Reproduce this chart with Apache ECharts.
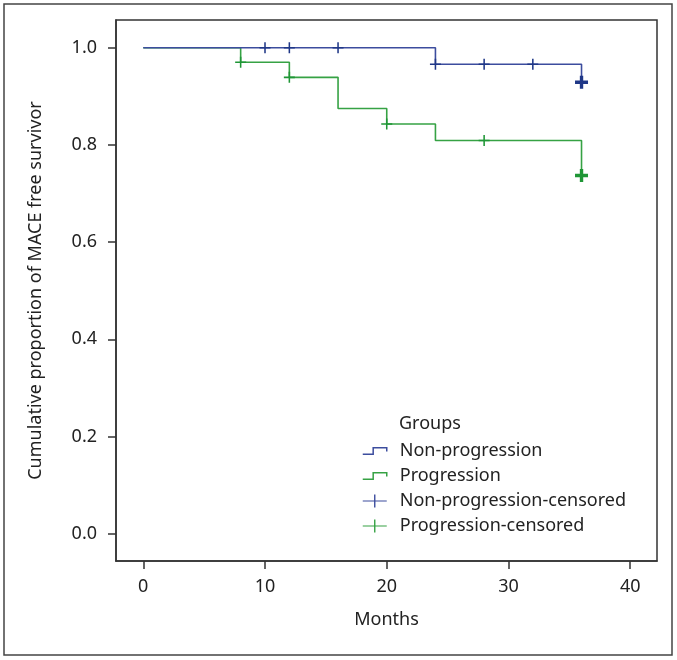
<!DOCTYPE html>
<html>
<head>
<meta charset="utf-8">
<script src="https://cdn.jsdelivr.net/npm/echarts@6/dist/echarts.min.js"></script>
<style>html,body{margin:0;padding:0;background:#fff;}#c{width:677px;height:660px;}</style>
</head>
<body>
<div id="c"></div>
<script>
// ---- data ----
const xTicks = [0, 10, 20, 30, 40];
const yTicks = [0, 0.2, 0.4, 0.6, 0.8, 1.0];

const nonProgTime = [0, 24, 36];
const nonProgSurv = [1.0, 0.966, 0.929];
const progTime = [0, 8, 12, 16, 20, 24, 36];
const progSurv = [1.0, 0.970, 0.939, 0.875, 0.843, 0.809, 0.737];

const nonProgCensTime = [10, 12, 16, 24, 28, 32, 36];
const nonProgCensSurv = [1.0, 1.0, 1.0, 0.966, 0.966, 0.966, 0.929];
const progCensTime = [8, 12, 20, 28, 36];
const progCensSurv = [0.970, 0.939, 0.843, 0.809, 0.737];

const seriesNames = ['Non-progression', 'Progression', 'Non-progression-censored', 'Progression-censored'];

// ---- styling ----
const BLUE = '#3c4d9e';
const GREEN = '#36a244';
const BLUE_D = '#1f3787';
const GREEN_D = '#1f9636';
const FONT = 'Noto Sans';
const TXT = '#222';

const plusThin = 'path://M4.3,0H5.7V4.3H10V5.7H5.7V10H4.3V5.7H0V4.3H4.3Z';
const plusBold = 'path://M3.7,0H6.3V3.7H10V6.3H6.3V10H3.7V6.3H0V3.7H3.7Z';
const legendPlus = 'path://M11.3,0H12.7V13H11.3Z M0,5.9H24V7.1H0Z';
const legendStep = 'path://M0,6L10,6L10,0L23,0L23,3.5';

function pairs(t, s) { return t.map((v, i) => [v, s[i]]); }
function censData(t, s) {
  return t.map((v, i) => {
    const last = i === t.length - 1;
    return last ? { value: [v, s[i]], symbol: plusBold, symbolSize: 13 } : [v, s[i]];
  });
}

const chart = echarts.init(document.getElementById('c'), null, { renderer: 'canvas' });
chart.setOption({
  animation: false,
  backgroundColor: '#fff',
  textStyle: { fontFamily: FONT },
  graphic: [{
    type: 'rect', shape: { x: 4, y: 4, width: 668, height: 651 },
    style: { fill: 'none', stroke: '#444', lineWidth: 1.5 }, silent: true, z: -1
  }],
  title: {
    text: 'Groups', left: 399, top: 415, padding: 0,
    textStyle: { fontFamily: FONT, fontSize: 18, fontWeight: 'normal', color: TXT }
  },
  grid: {
    left: 116, top: 20, right: 20, bottom: 99,
    show: true, borderColor: '#333', borderWidth: 1.5, backgroundColor: 'transparent'
  },
  legend: {
    orient: 'vertical', left: 362, top: 442, padding: 0,
    itemWidth: 24, itemHeight: 13, itemGap: 7,
    textStyle: { fontFamily: FONT, fontSize: 18, color: TXT, padding: [0, 0, 0, 8] },
    data: [
      { name: seriesNames[0], icon: legendStep, itemStyle: { color: 'rgba(0,0,0,0)', borderColor: BLUE, borderWidth: 1.5 } },
      { name: seriesNames[1], icon: legendStep, itemStyle: { color: 'rgba(0,0,0,0)', borderColor: GREEN, borderWidth: 1.5 } },
      { name: seriesNames[2], icon: legendPlus, itemStyle: { color: BLUE, borderWidth: 0 } },
      { name: seriesNames[3], icon: legendPlus, itemStyle: { color: GREEN, borderWidth: 0 } }
    ]
  },
  xAxis: {
    type: 'value', min: -2.24, max: 42.2,
    name: 'Months', nameLocation: 'middle', nameGap: 50,
    nameTextStyle: { fontFamily: FONT, fontSize: 18, color: TXT },
    axisLine: { show: true, onZero: false, lineStyle: { color: '#333', width: 1.5 } },
    axisTick: { show: true, length: 8, customValues: xTicks, lineStyle: { color: '#333', width: 1.5 } },
    axisLabel: { customValues: xTicks, margin: 17, fontFamily: FONT, fontSize: 18, color: TXT },
    splitLine: { show: false }
  },
  yAxis: {
    type: 'value', min: -0.056, max: 1.057,
    name: 'Cumulative proportion of MACE free survivor', nameLocation: 'middle', nameGap: 71,
    nameTextStyle: { fontFamily: FONT, fontSize: 18, color: TXT },
    axisLine: { show: true, onZero: false, lineStyle: { color: '#333', width: 1.5 } },
    axisTick: { show: true, length: 8, customValues: yTicks, lineStyle: { color: '#333', width: 1.5 } },
    axisLabel: { customValues: yTicks, margin: 19, fontFamily: FONT, fontSize: 18, color: TXT,
      formatter: v => v.toFixed(1) },
    splitLine: { show: false }
  },
  series: [
    {
      name: seriesNames[0], type: 'line', step: 'end', data: pairs(nonProgTime, nonProgSurv),
      showSymbol: false, symbol: 'none', color: BLUE,
      lineStyle: { color: BLUE, width: 1.6 }, z: 3
    },
    {
      name: seriesNames[1], type: 'line', step: 'end', data: pairs(progTime, progSurv),
      showSymbol: false, symbol: 'none', color: GREEN,
      lineStyle: { color: GREEN, width: 1.6 }, z: 2
    },
    {
      name: seriesNames[2], type: 'scatter', data: censData(nonProgCensTime, nonProgCensSurv),
      symbol: plusThin, symbolSize: 11, color: BLUE,
      itemStyle: { color: BLUE_D, opacity: 1 }, z: 4
    },
    {
      name: seriesNames[3], type: 'scatter', data: censData(progCensTime, progCensSurv),
      symbol: plusThin, symbolSize: 11, color: GREEN,
      itemStyle: { color: GREEN_D, opacity: 1 }, z: 4
    }
  ]
});
</script>
</body>
</html>
